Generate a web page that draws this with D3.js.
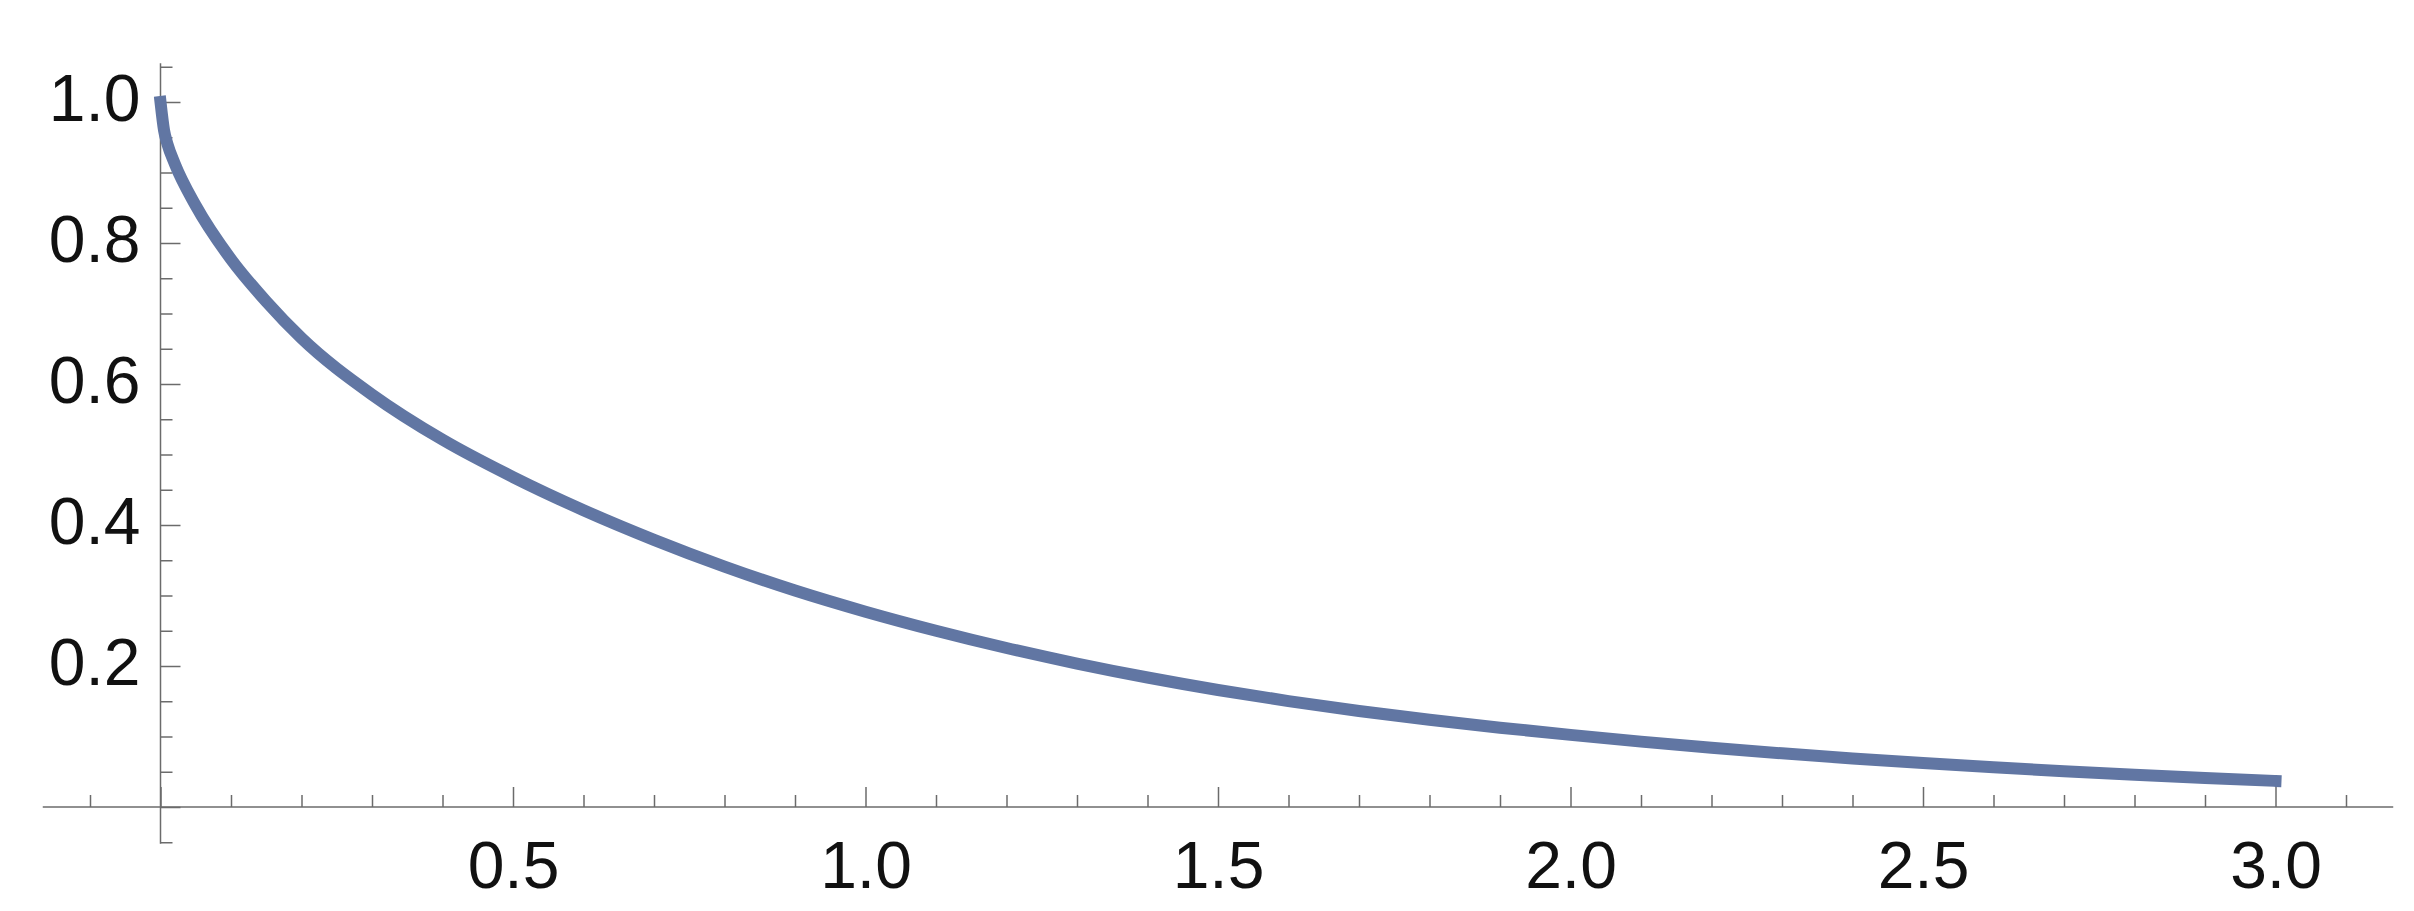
<!DOCTYPE html>
<html>
<head>
<meta charset="utf-8">
<script src="https://cdn.jsdelivr.net/npm/d3@7"></script>
<style>
  body { margin: 0; background: #fff; }
  text { font-family: "Liberation Sans", Arial, sans-serif; }
</style>
</head>
<body>
<script>
const WIDTH = 2414;
const HEIGHT = 911;
const LINE_COLOR = "#6176a3";
const AXIS_COLOR = "#6b6b6b";
const FONT_SIZE = 66;

// curve (smoothed by eye)
const curveX = [0, 0.005, 0.01, 0.02, 0.05, 0.1, 0.15, 0.2, 0.3, 0.4, 0.5, 0.6, 0.7, 0.8, 0.9, 1.0,
  1.1, 1.2, 1.3, 1.4, 1.5, 1.6, 1.7, 1.8, 1.9, 2.0, 2.1, 2.2, 2.3, 2.4, 2.5, 2.6, 2.7, 2.8, 2.9, 3.0];
const curveY = [1.0, 0.960, 0.940, 0.913, 0.853, 0.777, 0.717, 0.665, 0.585, 0.521, 0.468, 0.421, 0.379, 0.341, 0.307, 0.277,
  0.250, 0.2255, 0.2035, 0.1837, 0.1660, 0.1502, 0.1362, 0.1237, 0.1125, 0.1023, 0.0927, 0.0840, 0.0761, 0.0689, 0.0623,
  0.0563, 0.0508, 0.0458, 0.0412, 0.0370];

// ticks
const xLabels = [0.5, 1.0, 1.5, 2.0, 2.5, 3.0];
const xMajor = [0, 0.5, 1.0, 1.5, 2.0, 2.5, 3.0];
const xMinor = d3.range(-1, 32).map(i => i / 10).filter(v => !xMajor.some(m => Math.abs(m - v) < 1e-9));
const yLabels = [0.2, 0.4, 0.6, 0.8, 1.0];
const yMajor = [0, 0.2, 0.4, 0.6, 0.8, 1.0];
const yMinor = d3.range(-1, 22).map(i => i / 20).filter(v => !yMajor.some(m => Math.abs(m - v) < 1e-9));

const xDomainAxis = [-0.167, 3.167];
const yDomainAxis = [-0.052, 1.055];

const svg = d3.select("body").append("svg")
  .attr("width", WIDTH)
  .attr("height", HEIGHT);

const x = d3.scaleLinear().domain([0, 3]).range([160.5, 2275.5]);
const y = d3.scaleLinear().domain([0, 1]).range([807, 102]);

//axis lines
svg.append("line")
  .attr("x1", x(xDomainAxis[0])).attr("x2", x(xDomainAxis[1]))
  .attr("y1", y(0)).attr("y2", y(0))
  .attr("stroke", AXIS_COLOR).attr("stroke-width", 1.5);

svg.append("line")
  .attr("x1", x(0)).attr("x2", x(0))
  .attr("y1", y(yDomainAxis[0])).attr("y2", y(yDomainAxis[1]))
  .attr("stroke", AXIS_COLOR).attr("stroke-width", 1.5);

//ticks, pointing into the plot
const tickAxis = (axis, tr) => {
  const g = svg.append("g").attr("transform", tr).call(axis);
  g.select(".domain").remove();
  g.selectAll(".tick line").attr("stroke", AXIS_COLOR).attr("stroke-width", 1.5);
  return g;
};

tickAxis(d3.axisTop(x).tickValues(xMinor).tickSize(12).tickFormat(""), `translate(0,${y(0)})`);
tickAxis(d3.axisTop(x).tickValues(xMajor).tickSize(20).tickFormat(""), `translate(0,${y(0)})`);
tickAxis(d3.axisRight(y).tickValues(yMinor).tickSize(12).tickFormat(""), `translate(${x(0)},0)`);
tickAxis(d3.axisRight(y).tickValues(yMajor).tickSize(20).tickFormat(""), `translate(${x(0)},0)`);

//labels
const xl = tickAxis(d3.axisBottom(x).tickValues(xLabels).tickSize(0).tickFormat(d3.format(".1f")),
  `translate(0,${y(0)})`);
xl.selectAll(".tick text")
  .attr("y", 81).attr("dy", 0)
  .attr("font-size", FONT_SIZE).attr("fill", "#111")
  .style("font-family", "'Liberation Sans', Arial, sans-serif");

const yl = tickAxis(d3.axisLeft(y).tickValues(yLabels).tickSize(0).tickFormat(d3.format(".1f")),
  `translate(${x(0)},0)`);
yl.selectAll(".tick text")
  .attr("x", -20).attr("dy", 18.5)
  .attr("font-size", FONT_SIZE).attr("fill", "#111")
  .style("font-family", "'Liberation Sans', Arial, sans-serif");

//the curve
const line = d3.line()
  .x((d, i) => x(curveX[i]))
  .y(d => y(d))
  .curve(d3.curveMonotoneX);

svg.append("path")
  .datum(curveY)
  .attr("d", line)
  .attr("fill", "none")
  .attr("stroke", LINE_COLOR)
  .attr("stroke-width", 12)
  .attr("stroke-linecap", "square");
</script>
</body>
</html>
